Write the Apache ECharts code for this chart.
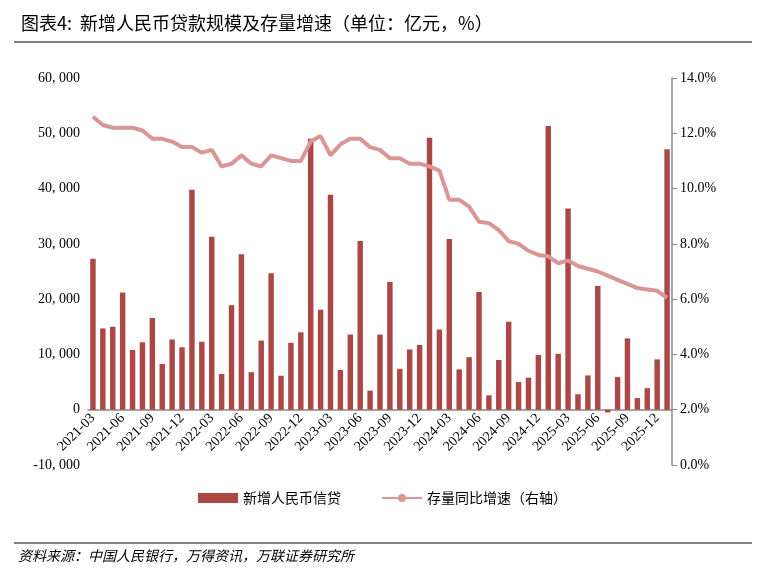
<!DOCTYPE html>
<html>
<head>
<meta charset="utf-8">
<script src="https://cdn.jsdelivr.net/npm/echarts@6/dist/echarts.min.js"></script>
<style>body{margin:0;background:#fff}#main{width:765px;height:575px}</style>
</head>
<body>
<div id="main"></div>
<script>
// 月份 2021-03 ~ 2026-01
var months = [];
for (var y = 2021; y <= 2026; y++) {
    for (var m = 1; m <= 12; m++) {
        if (y === 2021 && m < 3) continue;
        if (y === 2026 && m > 1) break;
        months.push(y + '-' + (m < 10 ? '0' + m : m));
    }
}
// 新增人民币信贷（亿元）
var newLoans = [
    27300, 14700, 15000, 21200, 10800, 12200, 16600, 8262, 12700, 11300,
    39800, 12300, 31300, 6454, 18900, 28100, 6790, 12500, 24700, 6152, 12100, 14000,
    49000, 18100, 38900, 7188, 13600, 30500, 3459, 13600, 23100, 7384, 10900, 11700,
    49200, 14500, 30900, 7300, 9500, 21300, 2600, 9000, 15900, 5000, 5800, 9900,
    51300, 10100, 36400, 2800, 6200, 22400, -500, 5900, 12900, 2100, 3900, 9100,
    47100
];
// 存量同比增速（%）
var stockGrowth = [
    12.6, 12.3, 12.2, 12.2, 12.2, 12.1, 11.8, 11.8, 11.7, 11.5,
    11.5, 11.3, 11.4, 10.8, 10.9, 11.2, 10.9, 10.8, 11.2, 11.1, 11.0, 11.0,
    11.7, 11.9, 11.2, 11.6, 11.8, 11.8, 11.5, 11.4, 11.1, 11.1, 10.9, 10.9,
    10.8, 10.65, 9.6, 9.6, 9.35, 8.8, 8.75, 8.5, 8.1, 8.0, 7.75, 7.6,
    7.55, 7.3, 7.4, 7.2, 7.1, 7.0, 6.85, 6.7, 6.55, 6.4, 6.35, 6.3,
    6.05
];

var serif = '"Liberation Serif", "Noto Sans CJK SC", serif';
var myChart = echarts.init(document.getElementById('main'));
myChart.setOption({
    animation: false,
    title: {
        text: '图表4:  新增人民币贷款规模及存量增速（单位：亿元，%）',
        left: 16, top: 9,
        textStyle: { fontFamily: '"Noto Sans CJK SC"', fontSize: 18, fontWeight: 'normal', color: '#000' }
    },
    graphic: [
        { type: 'line', shape: { x1: 14, y1: 42, x2: 752, y2: 42 }, style: { stroke: '#000', lineWidth: 1 } },
        { type: 'line', shape: { x1: 14, y1: 543, x2: 752, y2: 543 }, style: { stroke: '#000', lineWidth: 1 } },
        { type: 'text', left: 18, top: 549,
          style: { text: '资料来源：中国人民银行，万得资讯，万联证券研究所', fontFamily: '"Noto Sans CJK SC"', fontStyle: 'italic', fontSize: 14, fill: '#000' } }
    ],
    legend: {
        bottom: 65, itemGap: 40, itemWidth: 40, itemHeight: 10,
        textStyle: { fontFamily: '"Noto Sans CJK SC"', fontSize: 14, color: '#000' },
        data: [
            { name: '新增人民币信贷', icon: 'rect' },
            { name: '存量同比增速（右轴）' }
        ]
    },
    grid: { left: 88, right: 93, top: 78, bottom: 110 },
    xAxis: {
        type: 'category',
        data: months,
        offset: -55,
        axisLine: { onZero: false, lineStyle: { color: '#888', width: 1.5 } },
        axisTick: { show: false },
        axisLabel: { interval: 2, rotate: 45, fontFamily: serif, fontSize: 14, color: '#000', margin: 6 }
    },
    yAxis: [
        {
            type: 'value', min: -10000, max: 60000, interval: 10000,
            splitLine: { show: false },
            axisLine: { show: false },
            axisLabel: {
                fontFamily: serif, fontSize: 14, color: '#000',
                formatter: function (v) { return v.toLocaleString('en-US').replace(',', ', '); }
            }
        },
        {
            type: 'value', min: 0, max: 14, interval: 2,
            splitLine: { show: false },
            axisLine: { show: true, lineStyle: { color: '#888', width: 1.5 } },
            axisTick: { show: true, length: 5, lineStyle: { color: '#888' } },
            axisLabel: { fontFamily: serif, fontSize: 14, color: '#000', formatter: function (v) { return v.toFixed(1) + '%'; } }
        }
    ],
    series: [
        {
            name: '新增人民币信贷', type: 'bar', data: newLoans, barWidth: '55%',
            itemStyle: { color: '#AB4745' }
        },
        {
            name: '存量同比增速（右轴）', type: 'line', yAxisIndex: 1, data: stockGrowth,
            symbol: 'none', lineStyle: { color: '#D99694', width: 4 }, itemStyle: { color: '#D99694' }
        }
    ]
});
</script>
</body>
</html>
